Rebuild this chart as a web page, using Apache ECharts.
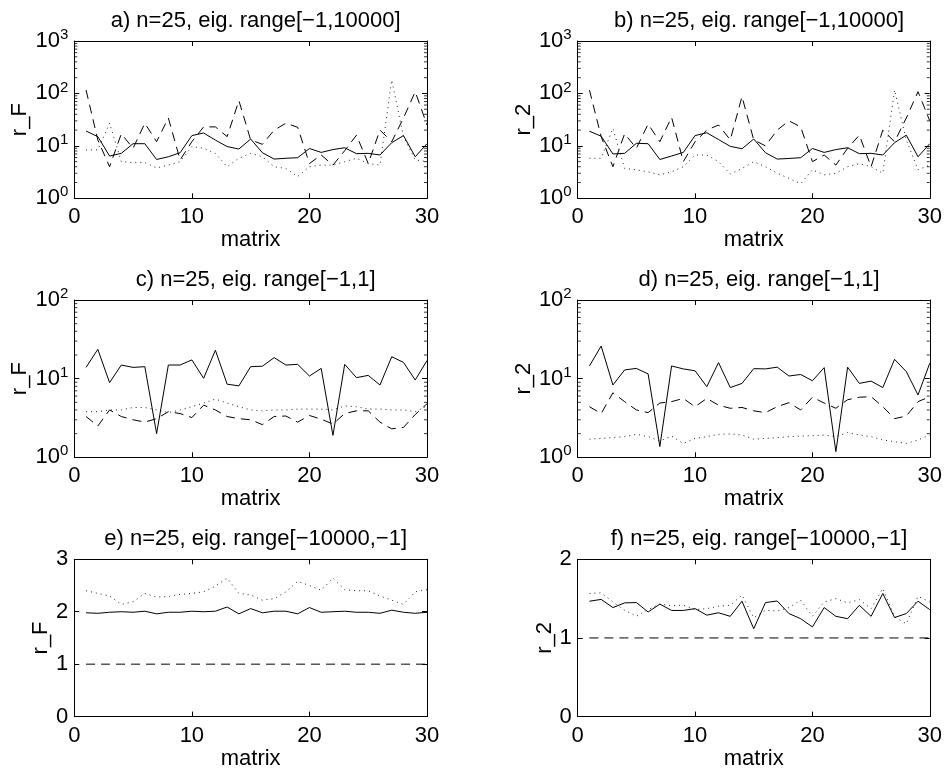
<!DOCTYPE html>
<html>
<head>
<meta charset="utf-8">
<script src="https://cdn.jsdelivr.net/npm/echarts@6/dist/echarts.min.js"></script>
<style>html,body{margin:0;padding:0;background:#fff;}#c{width:945px;height:775px;}</style>
</head>
<body>
<div id="c"></div>
<script>
const matrixIdx = [1,2,3,4,5,6,7,8,9,10,11,12,13,14,15,16,17,18,19,20,21,22,23,24,25,26,27,28,29,30];
const titles = [
  'a) n=25, eig. range[\u22121,10000]', 'b) n=25, eig. range[\u22121,10000]',
  'c) n=25, eig. range[\u22121,1]', 'd) n=25, eig. range[\u22121,1]',
  'e) n=25, eig. range[\u221210000,\u22121]', 'f) n=25, eig. range[\u221210000,\u22121]'
];
const yNames = ['r_F','r_2','r_F','r_2','r_F','r_2'];
const xTicks = [0, 10, 20, 30];
const minorTicks3 = [2,3,4,5,6,7,8,9,20,30,40,50,60,70,80,90,200,300,400,500,600,700,800,900];
const minorTicks2 = [2,3,4,5,6,7,8,9,20,30,40,50,60,70,80,90];

const aSolid  = [19.2,15,6.4,7.2,11,11,5.5,6.2,7.4,15.7,17.6,12.9,9.7,8.7,13.5,7.4,5.6,5.8,5.95,8.9,7.5,8.5,9.2,7.1,7.2,6.7,11.5,15.7,6.2,11];
const aDashed = [116,13,4.0,17,9,27,12,34,5.4,12,23,23,15,73,13,10.7,20,27,22.6,4.6,6.7,4.3,8.1,16,4.6,20,12,34,108,25];
const aDotted = [8.4,8.4,27,5.0,4.8,4.8,3.8,4.3,5.0,9.7,9.0,7.2,4.0,5.8,7.2,6.2,4.0,3.7,2.6,4.0,4.3,4.3,5.0,5.8,4.6,4.3,180,15,5.4,5.0];

const bSolid  = [19,15.3,7,7.2,11.2,11,5.5,6.4,7.5,15.7,17.8,13.2,9.8,8.8,13.5,7.4,5.6,5.75,5.95,8.9,7.5,8.5,9.2,7.1,7.2,6.7,11.5,16,6.2,11];
const bDashed = [116,15,4,17,9,26,12,35,5,12,20,25,13,87,13,10,20,30,23,5,6.7,4.3,9,16,4,20,12,34,108,30];
const bDotted = [5.8,5.8,21.6,3.7,3.5,3.2,2.8,3.2,4.0,6.7,6.7,5.0,2.9,3.7,5.0,4.0,3.0,2.4,1.9,3.5,2.8,3.0,4.0,4.6,4.0,3.0,116,13,3.5,4.3];

const cSolid  = [13.9,23.6,8.9,14.9,13.9,14.2,2.0,14.9,14.9,17.3,10.1,23,8.5,8.1,14.2,14.4,18.5,14.9,15.2,10.8,13.5,1.9,15.2,10.3,11,8.3,19,16.1,9.6,17];
const cDashed = [3.3,2.5,4.0,3.3,3.0,2.8,3.1,3.8,3.6,3.2,4.6,4.0,3.3,3.1,3.0,2.6,3.3,3.35,2.8,3.4,3.05,2.65,3.6,3.9,3.9,2.8,2.3,2.4,3.5,4.8];
const cDotted = [3.8,3.8,4.0,4.0,4.3,4.3,4.0,3.7,4.0,4.4,4.9,5.5,4.9,4.4,4.0,3.9,4.0,4.0,4.1,4.1,4.1,4.0,4.5,4.4,4.1,4.1,4.0,4.0,3.8,4.5];

const dSolid  = [14.5,26,8.3,12.9,13.5,11.5,1.37,14.5,13.3,12.6,7.9,16,7.7,8.7,13.4,13.3,14,10.8,11.3,9.4,13.8,1.18,14,8.7,9.3,7.7,17.6,12.3,6.2,15.7];
const dDashed = [4.4,3.6,6.6,5.1,4.0,3.7,4.9,5.1,5.6,4.4,5.6,4.6,4.2,4.3,3.9,3.7,4.4,4.95,4.0,5.8,4.9,4.2,5.4,5.8,5.9,4.4,3.1,3.35,5.1,5.9];
const dDotted = [1.7,1.74,1.78,1.83,1.96,1.83,1.61,1.86,1.5,1.74,1.83,1.96,1.98,1.92,1.7,1.74,1.78,1.83,1.86,1.88,1.92,1.83,2.06,1.92,1.83,1.66,1.58,1.5,1.66,1.92];

const eSolid  = [1.98,1.97,1.99,2.0,1.99,2.01,1.96,1.99,1.99,2.01,2.0,2.01,2.09,1.96,2.06,1.98,2.01,2.01,1.96,2.08,1.99,2.0,2.01,1.99,1.99,1.97,2.03,1.99,1.97,1.99];
const eDashed = [1,1,1,1,1,1,1,1,1,1,1,1,1,1,1,1,1,1,1,1,1,1,1,1,1,1,1,1,1,1];
const eDotted = [2.4,2.35,2.3,2.14,2.19,2.35,2.28,2.29,2.33,2.35,2.38,2.49,2.64,2.35,2.32,2.22,2.25,2.38,2.58,2.5,2.41,2.64,2.42,2.4,2.4,2.3,2.22,2.14,2.38,2.42];

const fSolid  = [1.467,1.49,1.386,1.446,1.45,1.33,1.43,1.35,1.35,1.373,1.29,1.32,1.275,1.467,1.117,1.45,1.47,1.31,1.245,1.14,1.386,1.275,1.245,1.415,1.275,1.565,1.26,1.31,1.467,1.36];
const fDashed = [1,1,1,1,1,1,1,1,1,1,1,1,1,1,1,1,1,1,1,1,1,1,1,1,1,1,1,1,1,1];
const fDotted = [1.565,1.574,1.458,1.352,1.275,1.36,1.43,1.41,1.416,1.36,1.373,1.403,1.416,1.544,1.258,1.352,1.343,1.386,1.48,1.275,1.458,1.5,1.446,1.488,1.373,1.629,1.267,1.18,1.53,1.458];

const panels = [
  {solid:aSolid, dashed:aDashed, dotted:aDotted, log:true, min:1, max:1000, minor:minorTicks3, gap:43},
  {solid:bSolid, dashed:bDashed, dotted:bDotted, log:true, min:1, max:1000, minor:minorTicks3, gap:37},
  {solid:cSolid, dashed:cDashed, dotted:cDotted, log:true, min:1, max:100, minor:minorTicks2, gap:43},
  {solid:dSolid, dashed:dDashed, dotted:dDotted, log:true, min:1, max:100, minor:minorTicks2, gap:37},
  {solid:eSolid, dashed:eDashed, dotted:eDotted, log:false, min:0, max:3, minor:null, gap:22},
  {solid:fSolid, dashed:fDashed, dotted:fDotted, log:false, min:0, max:2, minor:null, gap:20}
];

const FONT = '"Liberation Sans", Arial, Helvetica, sans-serif';
const FS = 22;
const lefts = [74.3, 577.7];
const tops = [41, 300, 559.3];
const W = 352.7, H = 157.3;

const grids = [], xAxes = [], yAxes = [], series = [], titleArr = [];
const axLine = {show:true, onZero:false, lineStyle:{color:'#000', width:1}};
const tick = {show:true, inside:true, length:5, lineStyle:{color:'#000', width:1}};

panels.forEach(function(p, i){
  const col = i % 2, row = Math.floor(i / 2);
  grids.push({left: lefts[col], top: tops[row], width: W, height: H, containLabel:false});
  titleArr.push({
    text: titles[i], left: lefts[col] + W/2, top: tops[row] - 37, textAlign:'center',
    textStyle:{fontFamily:FONT, fontSize:FS, fontWeight:'normal', color:'#000', lineHeight:24}
  });
  const xBase = {type:'value', gridIndex:i, min:0, max:30, interval:10, splitLine:{show:false},
                 axisLine:axLine, axisTick:tick};
  xAxes.push(Object.assign({}, xBase, {
    position:'bottom',
    axisLabel:{color:'#000', fontFamily:FONT, fontSize:FS, margin:8,
      formatter: function(v){ return xTicks.indexOf(v) >= 0 ? String(v) : ''; }},
    name:'matrix', nameLocation:'middle', nameGap:31,
    nameTextStyle:{fontFamily:FONT, fontSize:FS, color:'#000'}
  }));
  xAxes.push(Object.assign({}, xBase, {position:'top', axisLabel:{show:false}}));
  let yBase;
  if (p.log) {
    yBase = {type:'log', logBase:10, gridIndex:i, min:p.min, max:p.max, splitLine:{show:false},
             axisLine:axLine, axisTick:tick, minorTick:{show:false}};
  } else {
    yBase = {type:'value', gridIndex:i, min:p.min, max:p.max, interval:1, splitLine:{show:false},
             axisLine:axLine, axisTick:tick};
  }
  const lbl = p.log ? {
      color:'#000', fontFamily:FONT, margin:6,
      formatter: function(v){ return '{b|10}{s|' + Math.round(Math.log10(v)) + '}'; },
      rich:{ b:{fontFamily:FONT, fontSize:FS, color:'#000', lineHeight:24},
             s:{fontFamily:FONT, fontSize:15, color:'#000', lineHeight:15, padding:[0,0,12,0]} }
    } : {color:'#000', fontFamily:FONT, fontSize:FS, margin:6};
  yAxes.push(Object.assign({}, yBase, {
    position:'left', axisLabel:lbl,
    name: yNames[i], nameLocation:'middle', nameGap: p.gap,
    nameTextStyle:{fontFamily:FONT, fontSize:FS, color:'#000'}
  }));
  yAxes.push(Object.assign({}, yBase, {position:'right', axisLabel:{show:false}}));

  const mk = function(vals, type, color){
    return {
      type:'line', xAxisIndex: 2*i, yAxisIndex: 2*i, showSymbol:false, symbol:'none',
      animation:false, silent:true, clip:true,
      lineStyle:{color:color, width:1, type:type},
      data: matrixIdx.map(function(m, k){ return [m, vals[k]]; })
    };
  };
  series.push(mk(p.dotted, [1,4], '#222'));
  series.push(mk(p.dashed, [9,6], '#000'));
  series.push(mk(p.solid, 'solid', '#000'));

  if (p.minor) {
    // minor log ticks (2..9 per decade), drawn inside on left and right axes
    [[0, 1.5], [30, -1.5]].forEach(function(side){
      series.push({
        type:'scatter', xAxisIndex: 2*i, yAxisIndex: 2*i, silent:true, animation:false, clip:false,
        symbol:'rect', symbolSize:[3,1], symbolOffset:[side[1], 0],
        itemStyle:{color:'#000'},
        data: p.minor.map(function(v){ return [side[0], v]; })
      });
    });
  }
});

const chart = echarts.init(document.getElementById('c'), null, {renderer:'canvas'});
chart.setOption({
  backgroundColor:'#fff', animation:false,
  title: titleArr, grid: grids, xAxis: xAxes, yAxis: yAxes, series: series
});
</script>
</body>
</html>
